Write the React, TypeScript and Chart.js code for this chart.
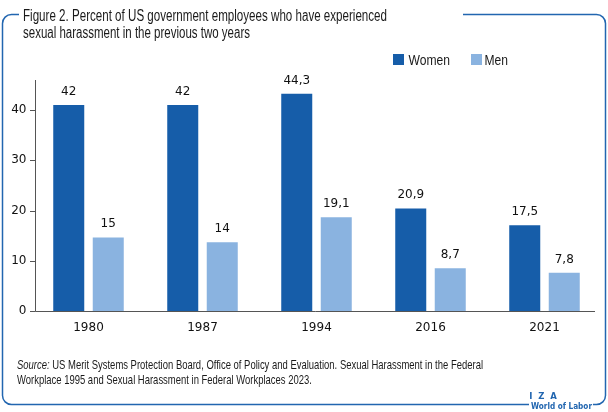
import React, { useEffect, useRef } from "react";
import { Chart, registerables } from "chart.js";

Chart.register(...registerables);

const categories = ["1980", "1987", "1994", "2016", "2021"];
const womenValues = [42, 42, 44.3, 20.9, 17.5];
const menValues = [15, 14, 19.1, 8.7, 7.8];
const womenLabels = ["42", "42", "44,3", "20,9", "17,5"];
const menLabels = ["15", "14", "19,1", "8,7", "7,8"];
const yTicks = [0, 10, 20, 30, 40];

const WOMEN = "#165DA9";
const MEN = "#8AB3E0";
const FRAME = "#2266B0";
const NARROW = '"Liberation Sans Narrow", "Arial Narrow", "Liberation Sans", sans-serif';
const DEJAVU = '"DejaVu Sans", Verdana, sans-serif';

function fitText(ctx: CanvasRenderingContext2D, text: string, x: number, y: number, w: number, font: string) {
  ctx.font = font;
  const m = ctx.measureText(text).width;
  ctx.save();
  ctx.translate(x, y);
  ctx.scale(w / m, 1);
  ctx.textAlign = "left";
  ctx.fillText(text, 0, 0);
  ctx.restore();
}

const decorPlugin = {
  id: "decor",
  afterDatasetsDraw(chart: any) {
    const ctx: CanvasRenderingContext2D = chart.ctx;
    ctx.save();
    ctx.fillStyle = "#111";
    ctx.font = "12px " + DEJAVU;
    ctx.textAlign = "center";
    ctx.textBaseline = "alphabetic";
    const lbls = [womenLabels, menLabels];
    chart.data.datasets.forEach((_ds: any, di: number) => {
      const meta = chart.getDatasetMeta(di);
      meta.data.forEach((el: any, i: number) => {
        ctx.fillText(lbls[di][i], el.x, el.y - 10);
      });
    });
    ctx.restore();
  },
  afterDraw(chart: any) {
    const ctx: CanvasRenderingContext2D = chart.ctx;
    const ys = chart.scales.y;
    const area = chart.chartArea;
    ctx.save();
    // axes
    ctx.strokeStyle = "#555";
    ctx.lineWidth = 1;
    const axX = 35.5;
    const bottom = Math.round(area.bottom) + 0.5;
    ctx.beginPath();
    ctx.moveTo(axX, area.top);
    ctx.lineTo(axX, bottom);
    ctx.lineTo(595, bottom);
    yTicks.forEach((v) => {
      const py = Math.round(ys.getPixelForValue(v)) + 0.5;
      ctx.moveTo(30, py);
      ctx.lineTo(axX, py);
    });
    ctx.stroke();

    // frame
    ctx.strokeStyle = FRAME;
    ctx.lineWidth = 1.5;
    const x1 = 2.5, y1 = 14.5, x2 = 605.5, y2 = 404.5, r = 9;
    ctx.beginPath();
    ctx.moveTo(19, y1);
    ctx.arcTo(x1, y1, x1, y2, r);
    ctx.arcTo(x1, y2, x2, y2, r);
    ctx.lineTo(529, y2);
    ctx.moveTo(593, y2);
    ctx.arcTo(x2, y2, x2, y1, r);
    ctx.arcTo(x2, y1, x1, y1, r);
    ctx.lineTo(463, y1);
    ctx.stroke();

    // title
    ctx.fillStyle = "#1a1a1a";
    ctx.textBaseline = "alphabetic";
    fitText(ctx, "Figure 2. Percent of US government employees who have experienced", 23, 20.5, 364, "16px " + NARROW);
    fitText(ctx, "sexual harassment in the previous two years", 23, 37.5, 227, "16px " + NARROW);

    // legend
    ctx.fillStyle = WOMEN;
    ctx.fillRect(393, 54, 11, 11);
    ctx.fillStyle = MEN;
    ctx.fillRect(471, 54, 11, 11);
    ctx.fillStyle = "#1a1a1a";
    fitText(ctx, "Women", 408.5, 65, 41.5, "15.5px " + NARROW);
    fitText(ctx, "Men", 484.5, 65, 23.5, "15.5px " + NARROW);

    // source
    const f1 = "13.5px " + NARROW;
    const fi = "italic 13.5px " + NARROW;
    const s1a = "Source:";
    const s1b = " US Merit Systems Protection Board, Office of Policy and Evaluation. Sexual Harassment in the Federal";
    const s2 = "Workplace 1995 and Sexual Harassment in Federal Workplaces 2023.";
    ctx.font = fi;
    const wa = ctx.measureText(s1a).width;
    ctx.font = f1;
    const wb = ctx.measureText(s1b).width;
    const sc = 466 / (wa + wb);
    ctx.save();
    ctx.translate(17, 368.5);
    ctx.scale(sc, 1);
    ctx.textAlign = "left";
    ctx.font = fi;
    ctx.fillText(s1a, 0, 0);
    ctx.font = f1;
    ctx.fillText(s1b, wa, 0);
    ctx.fillText(s2, 0, 15);
    ctx.restore();

    // logo
    ctx.fillStyle = FRAME;
    ctx.font = "bold 8.5px " + DEJAVU;
    ctx.textAlign = "center";
    ctx.fillText("I  Z  A", 543, 399);
    fitText(ctx, "World of Labor", 531, 408.5, 61, "bold 9.5px " + DEJAVU);
    ctx.restore();
  },
};

export default function App() {
  const ref = useRef<HTMLCanvasElement>(null);
  useEffect(() => {
    if (!ref.current) return;
    const chart = new Chart(ref.current, {
      type: "bar",
      data: {
        labels: categories,
        datasets: [
          {
            label: "Women",
            data: womenValues,
            backgroundColor: WOMEN,
            yAxisID: "yb",
            barPercentage: 0.785,
            categoryPercentage: 0.693,
          },
          {
            label: "Men",
            data: menValues,
            backgroundColor: MEN,
            yAxisID: "yb",
            barPercentage: 0.785,
            categoryPercentage: 0.693,
          },
        ],
      },
      options: {
        responsive: false,
        animation: false,
        devicePixelRatio: 1,
        layout: { padding: { top: 80, right: 6.5, bottom: 71, left: 0 } },
        plugins: { legend: { display: false }, title: { display: false }, tooltip: { enabled: false } },
        scales: {
          x: {
            grid: { display: false, drawTicks: false },
            border: { display: false },
            ticks: { color: "#111", font: { family: DEJAVU, size: 12 }, padding: 10 },
            afterFit: (s: any) => {
              s.height = 30;
            },
          },
          y: {
            position: "left",
            min: 0,
            max: 46,
            grid: { display: false, drawTicks: false },
            border: { display: false },
            ticks: { stepSize: 10, color: "#111", font: { family: DEJAVU, size: 12 }, padding: 5 },
            afterBuildTicks: (s: any) => {
              s.ticks = s.ticks.filter((t: any) => yTicks.includes(t.value));
            },
            afterFit: (s: any) => {
              s.width = 31.5;
            },
          },
          yb: {
            display: false,
            min: 0,
            max: 47.1,
          },
        },
      },
      plugins: [decorPlugin],
    });
    return () => chart.destroy();
  }, []);
  return (
    <div style={{ position: "fixed", left: 0, top: 0, width: 608, height: 412, background: "#fff" }}>
      <canvas ref={ref} width={608} height={412} style={{ display: "block", width: 608, height: 412 }} />
    </div>
  );
}
